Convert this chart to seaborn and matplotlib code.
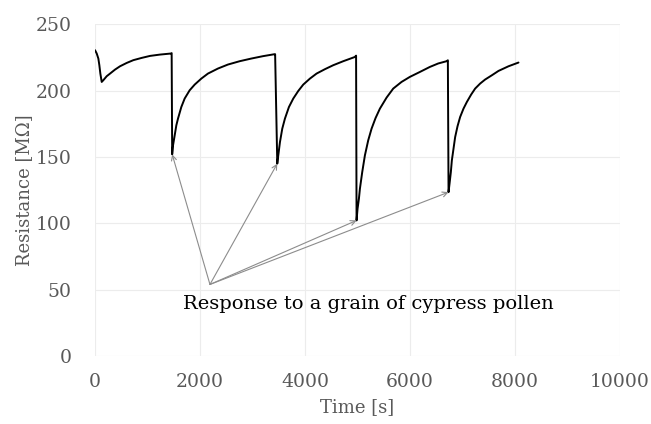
import matplotlib
matplotlib.use("Agg")
import matplotlib.pyplot as plt
import pandas as pd
import seaborn as sns

# values
time_s = [0, 32, 63, 82, 101, 127, 158, 222, 286, 381, 476, 603, 730, 889, 1048, 1238, 1448, 1460,
          1470, 1486, 1518, 1549, 1581, 1644, 1708, 1803, 1899, 2025, 2152, 2343, 2533, 2756,
          2977, 3200, 3423, 3432,
          3473, 3492, 3524, 3568, 3619, 3695, 3778, 3873, 3968, 4095, 4222, 4381, 4540, 4730,
          4952, 4975,
          4984, 5003, 5029, 5048, 5092, 5143, 5206, 5270, 5346, 5429, 5556, 5683, 5841, 6000,
          6190, 6381, 6540, 6699, 6724,
          6737, 6756, 6781, 6800, 6832, 6863, 6908, 6958, 7022, 7086, 7168, 7244, 7340, 7434,
          7562, 7689, 7880, 8070]
resistance = [230.4, 227.9, 224.1, 219.1, 212.8, 206.5, 207.8, 210.8, 212.8, 215.8, 218.3, 220.8,
              222.9, 224.6, 226.1, 227.1, 227.9, 228.2,
              152.0, 158.7, 166.3, 173.8, 178.9, 187.6, 194.0, 200.2, 204.5, 209.0, 212.8, 216.6,
              219.6, 222.1, 224.1, 225.9, 227.4, 227.4,
              145.0, 151.2, 161.2, 171.3, 178.9, 187.6, 194.0, 199.7, 204.5, 209.0, 212.8, 216.1,
              219.1, 222.1, 225.3, 226.3,
              102.2, 111.0, 118.6, 126.1, 138.6, 151.2, 162.5, 171.3, 179.3, 186.4, 194.7, 201.5,
              206.5, 210.3, 214.0, 217.8, 220.4, 222.1, 222.8,
              123.5, 129.9, 138.6, 147.4, 156.3, 165.0, 173.1, 180.1, 186.4, 191.4, 197.0, 201.5,
              205.3, 208.3, 211.5, 214.8, 218.3, 221.1]

# pollen grain events (arrow targets) and the note
event_t = [1470, 3473, 4984, 6737]
event_r = [152.0, 145.0, 102.2, 123.5]
note_xy = (2190, 54)
note_text = "Response to a grain of cypress pollen"

x_ticks = [0, 2000, 4000, 6000, 8000, 10000]
y_ticks = [0, 50, 100, 150, 200, 250]

df = pd.DataFrame({"t": time_s, "r": resistance})

sns.set_theme(style="white")
plt.rcParams["font.family"] = ["DejaVu Serif"]

fig = plt.figure(figsize=(6.51, 4.24), dpi=100)
ax = fig.add_axes([0.146, 0.160, 0.806, 0.783])

sns.lineplot(data=df, x="t", y="r", sort=False, estimator=None,
             color="black", linewidth=1.4, ax=ax)

for et, er in zip(event_t, event_r):
    ax.annotate("", xy=(et, er), xytext=note_xy,
                arrowprops=dict(arrowstyle="->", color="#8c8c8c", lw=0.8,
                                shrinkA=0, shrinkB=0, mutation_scale=9))

ax.text(1680, 39, note_text, fontsize=14, color="black", va="center", ha="left")

ax.set_xlim(0, 10000)
ax.set_ylim(0, 250)
ax.set_xticks(x_ticks)
ax.set_yticks(y_ticks)
ax.grid(True, color="#ececec", linewidth=0.8)
for s in ax.spines.values():
    s.set_visible(False)
ax.tick_params(axis="both", length=0, labelsize=13.5, labelcolor="#595959")
ax.tick_params(axis="y", pad=17)
ax.tick_params(axis="x", pad=12)
ax.set_xlabel("Time [s]", fontsize=13, color="#595959", labelpad=5)
ax.set_ylabel("Resistance [MΩ]", fontsize=13, color="#595959", labelpad=2)

fig.savefig("out.png", dpi=100)
